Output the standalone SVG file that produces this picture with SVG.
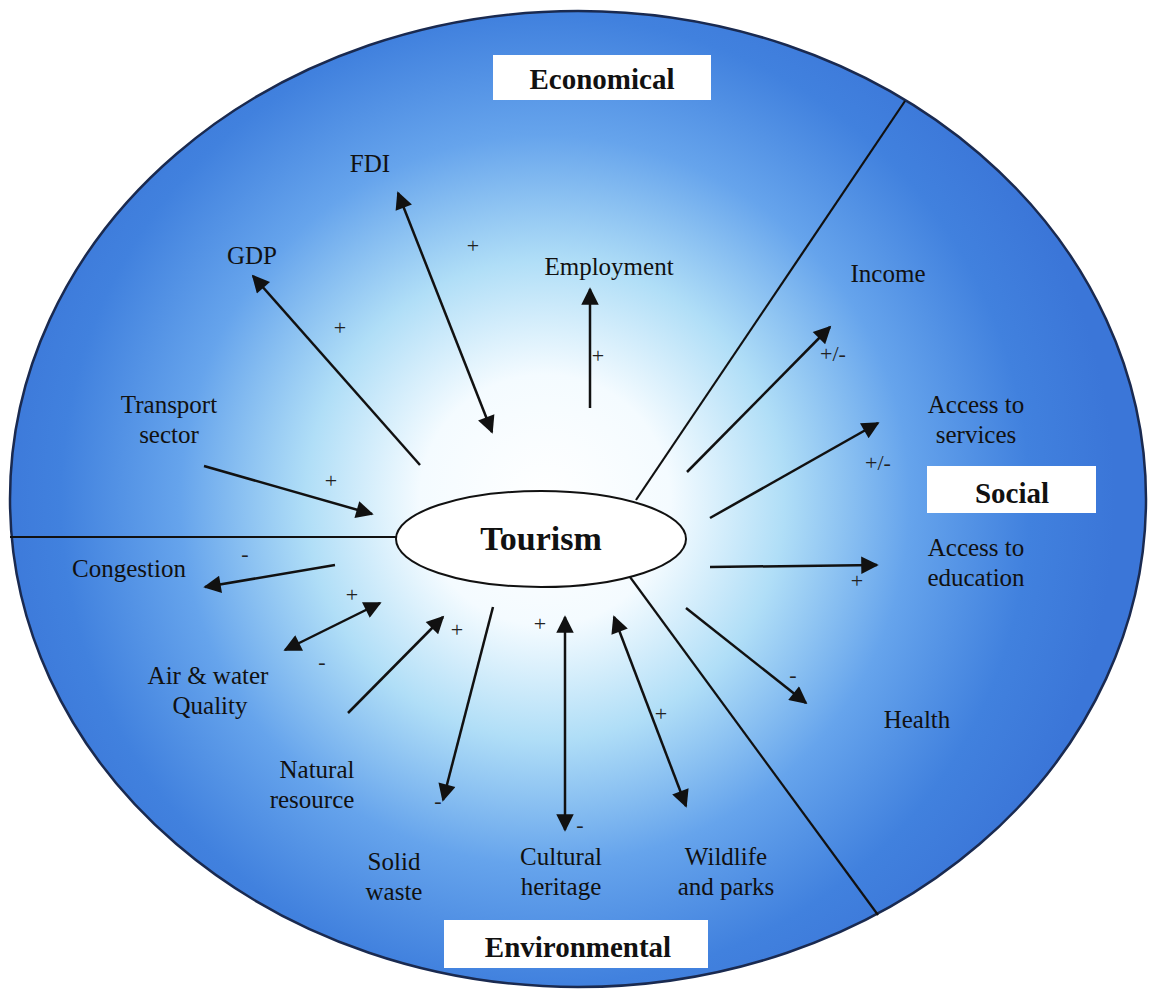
<svg xmlns="http://www.w3.org/2000/svg" width="1152" height="994" viewBox="0 0 1152 994">
<style>
.lbl{font-family:"Liberation Serif","Times New Roman",serif;font-size:25px;fill:#111;text-anchor:middle}
.sgn{font-family:"Liberation Serif","Times New Roman",serif;font-size:22px;fill:#222;text-anchor:middle}
.box{fill:#fff}
.boxt{font-family:"Liberation Serif","Times New Roman",serif;font-size:29px;font-weight:bold;fill:#111;text-anchor:middle}
.ar{stroke:#111;stroke-width:2.5;fill:none}
.dv{stroke:#111;stroke-width:2.2;fill:none}
</style>
<defs>
<radialGradient id="bg" gradientUnits="userSpaceOnUse" cx="545" cy="500" r="570">
<stop offset="0" stop-color="#ffffff"/>
<stop offset="0.22" stop-color="#f4fbff"/>
<stop offset="0.42" stop-color="#b0def7"/>
<stop offset="0.64" stop-color="#66a4ec"/>
<stop offset="0.85" stop-color="#4181de"/>
<stop offset="1" stop-color="#3b76d8"/>
</radialGradient>
<marker id="ah" viewBox="0 0 10 10" refX="9" refY="5" markerWidth="8" markerHeight="7" markerUnits="strokeWidth" orient="auto-start-reverse">
<path d="M0,0 L10,5 L0,10 z" fill="#111"/>
</marker>
</defs>
<rect width="1152" height="994" fill="#fff"/>
<g id="background">
<ellipse cx="578" cy="499" rx="568" ry="488" fill="url(#bg)" stroke="#1a2a50" stroke-width="2.5"/>
</g>
<g id="dividers">
<line class="dv" x1="10" y1="537" x2="398" y2="537"/>
<line class="dv" x1="636" y1="500" x2="905" y2="101"/>
<line class="dv" x1="630" y1="577" x2="878" y2="915"/>
</g>
<g id="connectors">
<line class="ar" x1="420" y1="465" x2="253" y2="276" marker-end="url(#ah)"/>
<line class="ar" x1="492" y1="432" x2="398" y2="193" marker-start="url(#ah)" marker-end="url(#ah)"/>
<line class="ar" x1="590" y1="408" x2="590" y2="289" marker-end="url(#ah)"/>
<line class="ar" x1="204" y1="466" x2="372" y2="514" marker-end="url(#ah)"/>
<line class="ar" x1="687" y1="472" x2="830" y2="327" marker-end="url(#ah)"/>
<line class="ar" x1="710" y1="518" x2="878" y2="423" marker-end="url(#ah)"/>
<line class="ar" x1="710" y1="567" x2="877" y2="565" marker-end="url(#ah)"/>
<line class="ar" x1="686" y1="608" x2="806" y2="703" marker-end="url(#ah)"/>
<line class="ar" x1="335" y1="565" x2="205" y2="587" marker-end="url(#ah)"/>
<line class="ar" x1="380" y1="603" x2="285" y2="650" marker-start="url(#ah)" marker-end="url(#ah)"/>
<line class="ar" x1="348" y1="713" x2="443" y2="617" marker-end="url(#ah)"/>
<line class="ar" x1="493" y1="607" x2="443" y2="800" marker-end="url(#ah)"/>
<line class="ar" x1="565" y1="617" x2="565" y2="830" marker-start="url(#ah)" marker-end="url(#ah)"/>
<line class="ar" x1="614" y1="617" x2="686" y2="806" marker-start="url(#ah)" marker-end="url(#ah)"/>
</g>
<g id="signs">
<text class="sgn" x="473" y="253">+</text>
<text class="sgn" x="340" y="335">+</text>
<text class="sgn" x="598" y="363">+</text>
<text class="sgn" x="331" y="488">+</text>
<text class="sgn" x="833" y="361">+/-</text>
<text class="sgn" x="878" y="470">+/-</text>
<text class="sgn" x="857" y="588">+</text>
<text class="sgn" x="793" y="682">-</text>
<text class="sgn" x="245" y="561">-</text>
<text class="sgn" x="352" y="602">+</text>
<text class="sgn" x="322" y="669">-</text>
<text class="sgn" x="457" y="637">+</text>
<text class="sgn" x="438" y="808">-</text>
<text class="sgn" x="540" y="631">+</text>
<text class="sgn" x="580" y="832">-</text>
<text class="sgn" x="661" y="721">+</text>
</g>
<g id="tourism">
<ellipse cx="541" cy="539" rx="145" ry="48" fill="#fff" stroke="#111" stroke-width="2"/>
<text x="541" y="550" font-family="Liberation Serif, Times New Roman, serif" font-size="34" font-weight="bold" fill="#111" text-anchor="middle">Tourism</text>
</g>
<g id="economical">
<rect class="box" x="493" y="55" width="218" height="45"/>
<text class="boxt" x="602" y="89">Economical</text>
</g>
<g id="social">
<rect class="box" x="927" y="466" width="169" height="47"/>
<text class="boxt" x="1012" y="503">Social</text>
</g>
<g id="environmental">
<rect class="box" x="444" y="920" width="264" height="48"/>
<text class="boxt" x="578" y="957">Environmental</text>
</g>
<g id="fdi"><text class="lbl" x="370" y="172">FDI</text></g>
<g id="gdp"><text class="lbl" x="252" y="264">GDP</text></g>
<g id="employment"><text class="lbl" x="609" y="275">Employment</text></g>
<g id="income"><text class="lbl" x="888" y="282">Income</text></g>
<g id="transport"><text class="lbl" x="169" y="413">Transport</text><text class="lbl" x="169" y="443">sector</text></g>
<g id="services"><text class="lbl" x="976" y="413">Access to</text><text class="lbl" x="976" y="443">services</text></g>
<g id="education"><text class="lbl" x="976" y="556">Access to</text><text class="lbl" x="976" y="586">education</text></g>
<g id="health"><text class="lbl" x="917" y="728">Health</text></g>
<g id="congestion"><text class="lbl" x="129" y="577">Congestion</text></g>
<g id="air"><text class="lbl" x="208" y="684">Air &amp; water</text><text class="lbl" x="210" y="714">Quality</text></g>
<g id="natural"><text class="lbl" x="317" y="778">Natural</text><text class="lbl" x="312" y="808">resource</text></g>
<g id="solid"><text class="lbl" x="394" y="870">Solid</text><text class="lbl" x="394" y="900">waste</text></g>
<g id="cultural"><text class="lbl" x="561" y="865">Cultural</text><text class="lbl" x="561" y="895">heritage</text></g>
<g id="wildlife"><text class="lbl" x="726" y="865">Wildlife</text><text class="lbl" x="726" y="895">and parks</text></g>
</svg>
